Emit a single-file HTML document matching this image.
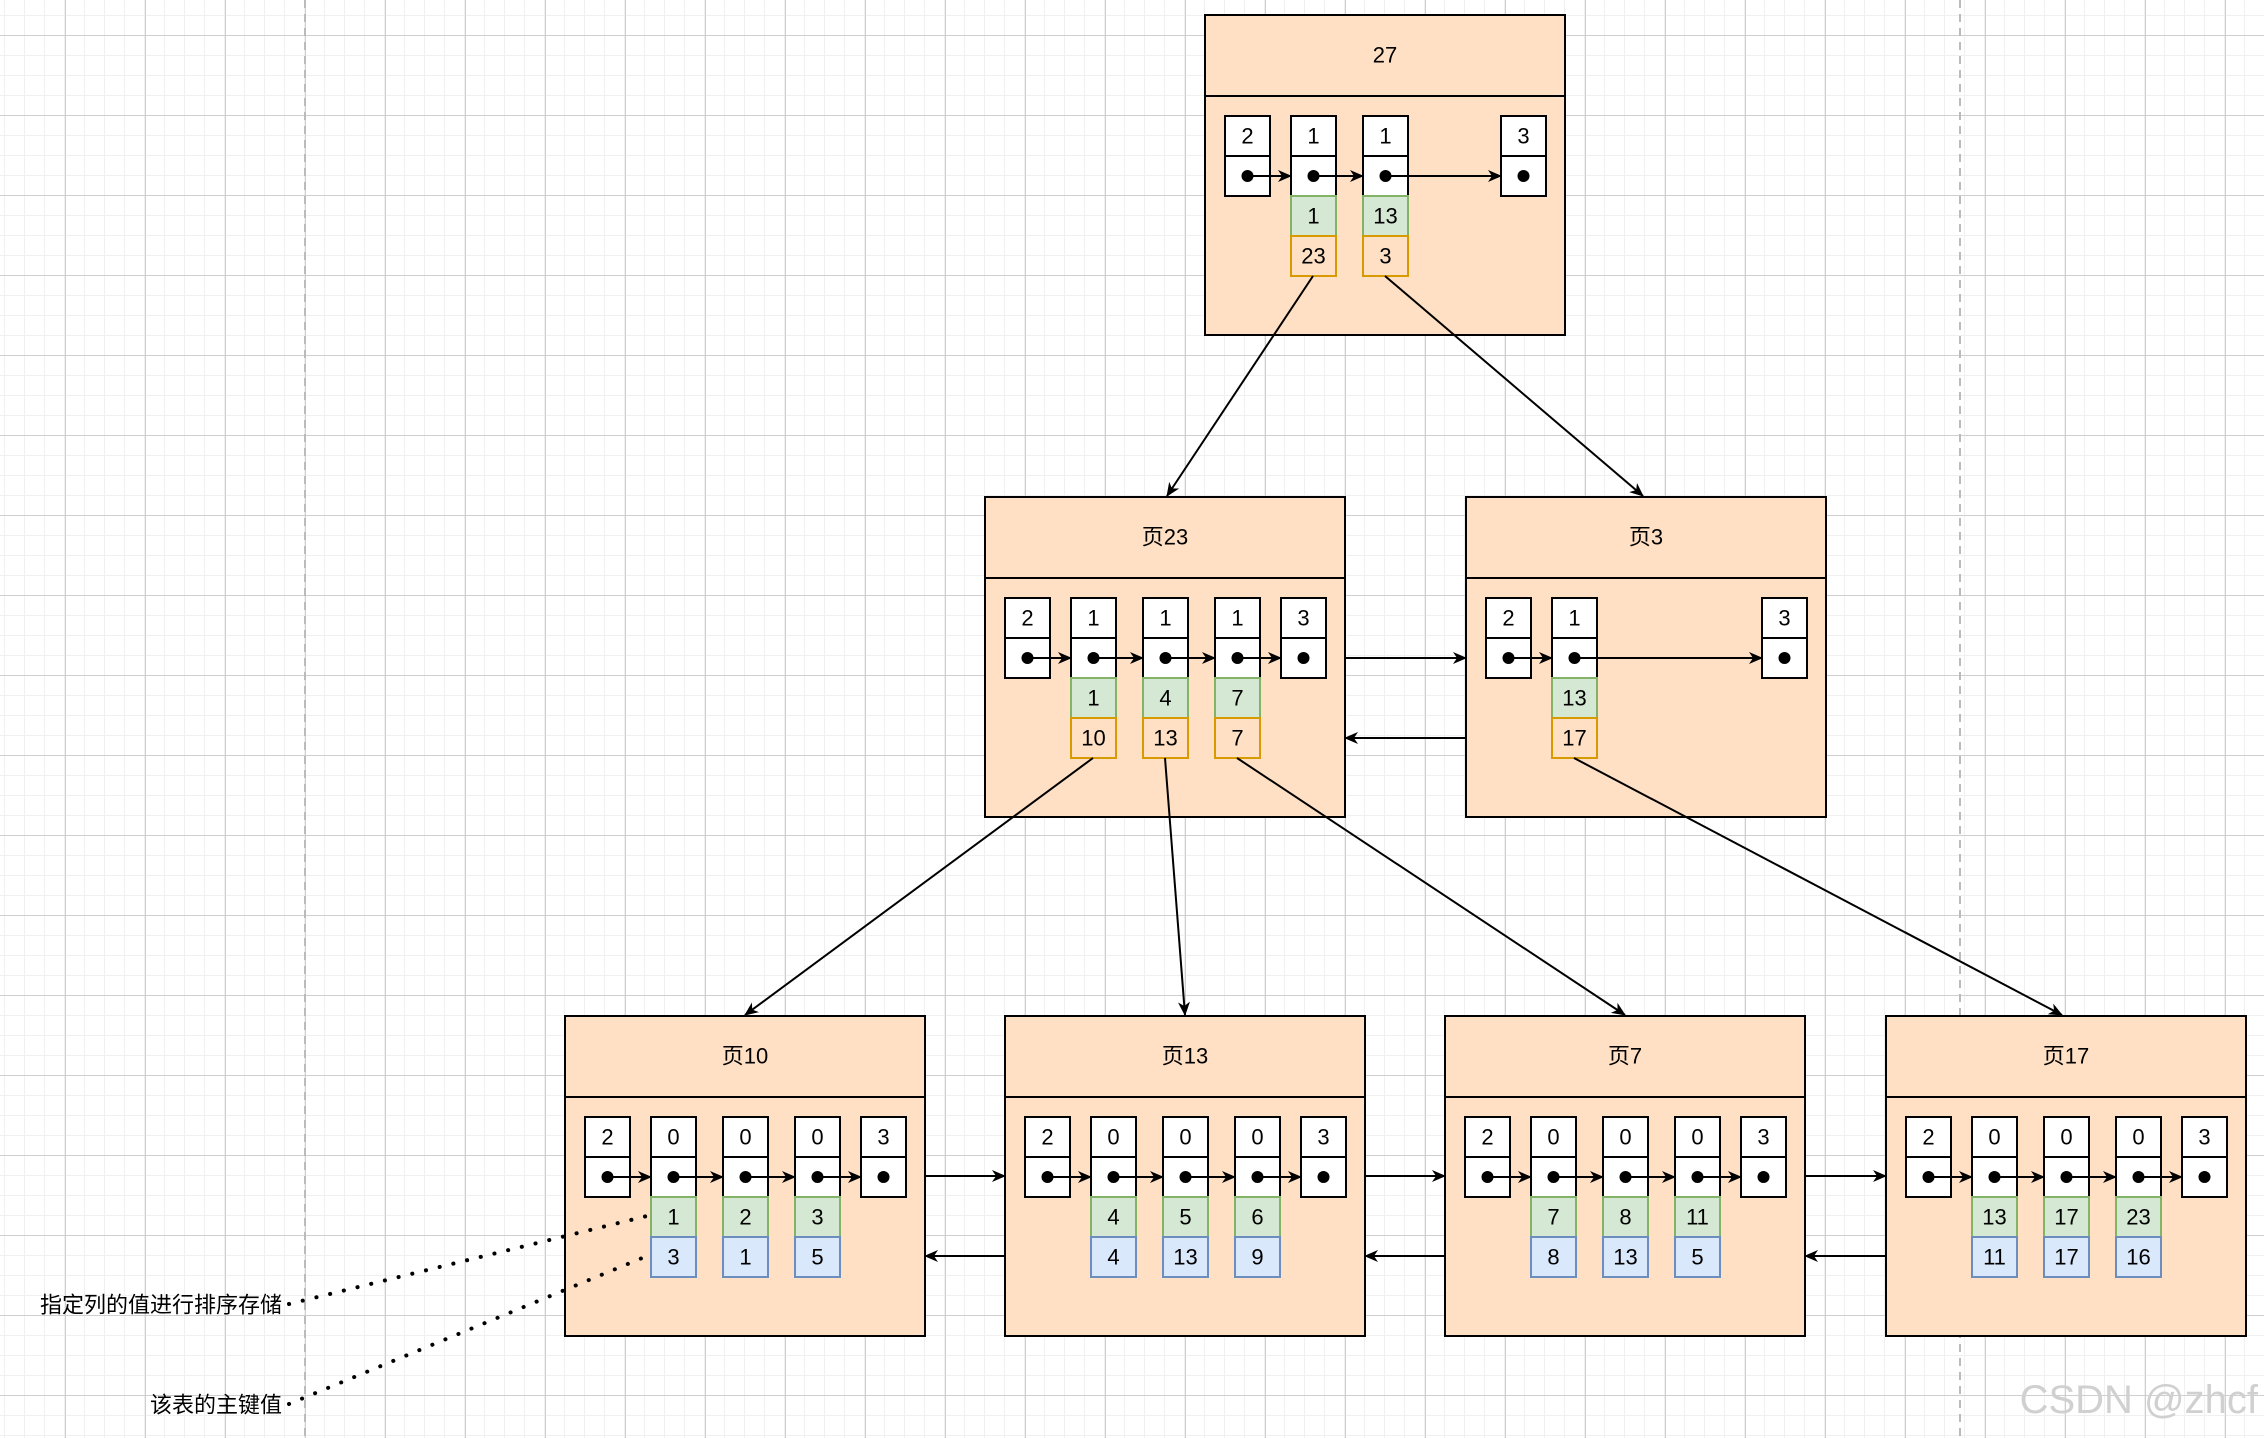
<!DOCTYPE html>
<html><head><meta charset="utf-8"><style>
html,body{margin:0;padding:0;background:#fff;}
svg{display:block;}
text{font-family:"Liberation Sans","Noto Sans CJK SC",sans-serif;}
</style></head><body>
<svg id="s" width="2264" height="1438" viewBox="0 0 2264 1438" xmlns="http://www.w3.org/2000/svg">
<defs>
<pattern id="minor" x="4" y="15" width="20" height="20" patternUnits="userSpaceOnUse">
<path d="M0 0V20M0 0H20" stroke="#f0f0f0" stroke-width="2" fill="none"/>
</pattern>
<pattern id="major" x="65" y="35" width="80" height="80" patternUnits="userSpaceOnUse">
<path d="M0.5 0V80M0 0.5H80" stroke="#cfcfcf" stroke-width="1" fill="none"/>
</pattern>
<marker id="ar" markerWidth="14" markerHeight="12" refX="13" refY="6" orient="auto" markerUnits="userSpaceOnUse">
<path d="M0,0 L14,6 L0,12 L4,6 z" fill="#000"/>
</marker>
</defs>
<rect width="2264" height="1438" fill="url(#minor)"/>
<rect width="2264" height="1438" fill="url(#major)"/>
<line x1="305" y1="0" x2="305" y2="1438" stroke="#bbb" stroke-width="2" stroke-dasharray="8,6"/>
<line x1="1960" y1="0" x2="1960" y2="1438" stroke="#bbb" stroke-width="2" stroke-dasharray="8,6"/>
<g id="g"></g>
</svg>
<script>
var g=document.getElementById('g'),h='';
function T(x,y,t,sz,fill){return '<text x="'+x+'" y="'+y+'" font-size="'+(sz||22)+'" text-anchor="middle" dominant-baseline="central" fill="'+(fill||'#000')+'">'+t+'</text>';}
function R(x,y,w,hh,f,s){return '<rect x="'+x+'" y="'+y+'" width="'+w+'" height="'+hh+'" fill="'+f+'" stroke="'+s+'" stroke-width="2"/>';}
function L(x1,y1,x2,y2,arrow){return '<line x1="'+x1+'" y1="'+y1+'" x2="'+x2+'" y2="'+y2+'" stroke="#000" stroke-width="2"'+(arrow?' marker-end="url(#ar)"':'')+'/>';}
function node(x,y,title,offs,tops,ext,leaf){
 h+=R(x,y,360,320,'#ffe0c4','#000');
 h+=L(x,y+81,x+360,y+81);
 h+=T(x+180,y+40,title);
 var cy=y+101;
 for(var i=0;i<offs.length;i++){
  var cx=x+offs[i];
  h+=R(cx,cy,45,40,'#fff','#000');h+=T(cx+22.5,cy+20,tops[i]);
  h+=R(cx,cy+40,45,40,'#fff','#000');
  var e=ext[i];
  if(e){
   h+=R(cx,cy+80,45,40,'#d5e8d4','#82b366');h+=T(cx+22.5,cy+100,e[0]);
   if(leaf){h+=R(cx,cy+120,45,40,'#dae8fc','#6c8ebf');}
   else{h+=R(cx,cy+120,45,40,'#ffe0c4','#d79b00');}
   h+=T(cx+22.5,cy+140,e[1]);
  }
 }
 for(var i=0;i<offs.length;i++){
  var cx=x+offs[i];
  if(i<offs.length-1){h+=L(cx+22.5,cy+60,x+offs[i+1],cy+60,true);}
  h+='<circle cx="'+(cx+22.5)+'" cy="'+(cy+60)+'" r="6" fill="#000"/>';
 }
}
node(1205,15,'27',[20,86,158,296],[2,1,1,3],[null,[1,23],[13,3],null]);
node(985,497,'页23',[20,86,158,230,296],[2,1,1,1,3],[null,[1,10],[4,13],[7,7],null]);
node(1466,497,'页3',[20,86,296],[2,1,3],[null,[13,17],null]);
var lo=[20,86,158,230,296],lt=[2,0,0,0,3];
node(565,1016,'页10',lo,lt,[null,[1,3],[2,1],[3,5],null],1);
node(1005,1016,'页13',lo,lt,[null,[4,4],[5,13],[6,9],null],1);
node(1445,1016,'页7',lo,lt,[null,[7,8],[8,13],[11,5],null],1);
node(1886,1016,'页17',lo,lt,[null,[13,11],[17,17],[23,16],null],1);
// connectors
h+=L(1313,276,1167,496,true);
h+=L(1385,276,1643,496,true);
h+=L(1093,758,745,1015,true);
h+=L(1165,758,1185,1015,true);
h+=L(1237,758,1625,1015,true);
h+=L(1574,758,2062,1015,true);
// sibling arrows
h+=L(1345,658,1466,658,true);
h+=L(1466,738,1345,738,true);
var xs=[565,1005,1445,1886];
for(var i=0;i<3;i++){h+=L(xs[i]+360,1176,xs[i+1],1176,true);h+=L(xs[i+1],1256,xs[i]+360,1256,true);}
// dotted annotations
h+='<line x1="289" y1="1304" x2="647" y2="1216" stroke="#000" stroke-width="4" stroke-dasharray="0.1,14" stroke-linecap="round"/>';
h+='<line x1="289" y1="1404" x2="647" y2="1256" stroke="#000" stroke-width="4" stroke-dasharray="0.1,14" stroke-linecap="round"/>';
h+='<text x="282" y="1305" font-size="22" text-anchor="end" dominant-baseline="central">指定列的值进行排序存储</text>';
h+='<text x="282" y="1405" font-size="22" text-anchor="end" dominant-baseline="central">该表的主键值</text>';
h+='<text x="2258" y="1400" font-size="40" text-anchor="end" dominant-baseline="central" fill="#d0d0d0">CSDN @zhcf</text>';
g.innerHTML=h;
</script>
</body></html>
